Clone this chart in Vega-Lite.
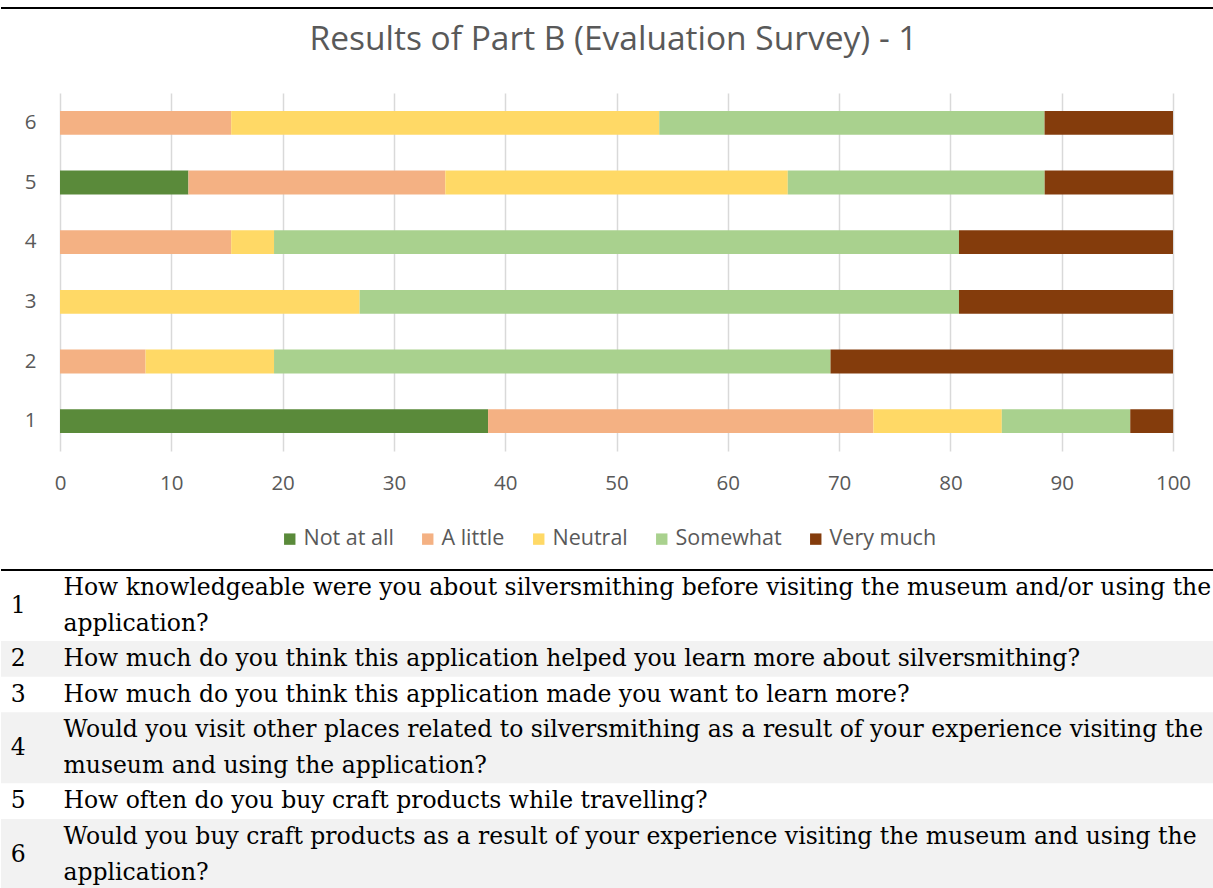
{
  "$schema": "https://vega.github.io/schema/vega-lite/v6.json",
  "padding": {"left": 0, "right": 0, "top": 7, "bottom": 0},
  "spacing": 13,
  "resolve": {"legend": {"color": "independent"}},
  "config": {"view": {"stroke": null}, "font": "Open Sans", "legend": {"layout": {"bottom": {"anchor": "middle"}}}},
  "datasets": {
    "survey": [
      {"question": 1, "response": "Not at all", "level": 1, "pct": 38.46},
      {"question": 1, "response": "A little", "level": 2, "pct": 34.62},
      {"question": 1, "response": "Neutral", "level": 3, "pct": 11.54},
      {"question": 1, "response": "Somewhat", "level": 4, "pct": 11.54},
      {"question": 1, "response": "Very much", "level": 5, "pct": 3.85},
      {"question": 2, "response": "A little", "level": 2, "pct": 7.69},
      {"question": 2, "response": "Neutral", "level": 3, "pct": 11.54},
      {"question": 2, "response": "Somewhat", "level": 4, "pct": 50.0},
      {"question": 2, "response": "Very much", "level": 5, "pct": 30.77},
      {"question": 3, "response": "Neutral", "level": 3, "pct": 26.92},
      {"question": 3, "response": "Somewhat", "level": 4, "pct": 53.85},
      {"question": 3, "response": "Very much", "level": 5, "pct": 19.23},
      {"question": 4, "response": "A little", "level": 2, "pct": 15.38},
      {"question": 4, "response": "Neutral", "level": 3, "pct": 3.85},
      {"question": 4, "response": "Somewhat", "level": 4, "pct": 61.54},
      {"question": 4, "response": "Very much", "level": 5, "pct": 19.23},
      {"question": 5, "response": "Not at all", "level": 1, "pct": 11.54},
      {"question": 5, "response": "A little", "level": 2, "pct": 23.08},
      {"question": 5, "response": "Neutral", "level": 3, "pct": 30.77},
      {"question": 5, "response": "Somewhat", "level": 4, "pct": 23.08},
      {"question": 5, "response": "Very much", "level": 5, "pct": 11.54},
      {"question": 6, "response": "A little", "level": 2, "pct": 15.38},
      {"question": 6, "response": "Neutral", "level": 3, "pct": 38.46},
      {"question": 6, "response": "Somewhat", "level": 4, "pct": 34.62},
      {"question": 6, "response": "Very much", "level": 5, "pct": 11.54}
    ],
    "questions": [
      {"no": 1, "start": 0, "end": 2, "lines": 2, "question": "How knowledgeable were you about silversmithing before visiting the museum and/or using the\napplication?"},
      {"no": 2, "start": 2, "end": 3, "lines": 1, "question": "How much do you think this application helped you learn more about silversmithing?"},
      {"no": 3, "start": 3, "end": 4, "lines": 1, "question": "How much do you think this application made you want to learn more?"},
      {"no": 4, "start": 4, "end": 6, "lines": 2, "question": "Would you visit other places related to silversmithing as a result of your experience visiting the\nmuseum and using the application?"},
      {"no": 5, "start": 6, "end": 7, "lines": 1, "question": "How often do you buy craft products while travelling?"},
      {"no": 6, "start": 7, "end": 9, "lines": 2, "question": "Would you buy craft products as a result of your experience visiting the museum and using the\napplication?"}
    ]
  },
  "vconcat": [
    {
      "width": 1213,
      "height": 1,
      "data": {"values": [{}]},
      "mark": {"type": "rule", "strokeWidth": 2, "color": "#000000"},
      "encoding": {"y": {"datum": 0, "type": "quantitative", "axis": null}}
    },
    {
      "width": 1213,
      "height": 358,
      "title": {"text": "Results of Part B (Evaluation Survey) - 1", "fontSize": 33.5, "font": "Open Sans", "fontWeight": "normal", "color": "#595959", "anchor": "middle", "offset": 36, "dx": 6},
      "data": {"name": "survey"},
      "mark": {"type": "bar"},
      "encoding": {
        "y": {"field": "question", "type": "ordinal", "sort": "descending",
          "scale": {"paddingInner": 0.6, "paddingOuter": 0.3},
          "axis": {"title": null, "domain": false, "ticks": false, "tickSize": 0, "labelPadding": 0, "offset": -35, "labelFontSize": 20.5, "labelColor": "#595959", "labelFont": "Open Sans"}},
        "x": {"field": "pct", "type": "quantitative", "stack": "zero",
          "scale": {"domain": [0, 100], "range": [59, 1172], "nice": false, "zero": true},
          "axis": {"title": null, "values": [0, 10, 20, 30, 40, 50, 60, 70, 80, 90, 100], "domain": false, "ticks": false, "tickSize": 0, "labelPadding": 22, "labelFlush": false, "grid": true, "gridColor": "#d9d9d9", "gridWidth": 1.5, "labelFontSize": 20.5, "labelColor": "#595959", "labelFont": "Open Sans"}},
        "color": {"field": "response", "type": "nominal",
          "scale": {"domain": ["Not at all", "A little", "Neutral", "Somewhat", "Very much"], "range": ["#5a8a3a", "#f4b183", "#ffd966", "#a9d18e", "#843c0c"]},
          "legend": {"title": null, "orient": "bottom", "direction": "horizontal", "symbolType": "square", "symbolSize": 130, "symbolStrokeWidth": 0, "labelFontSize": 21.5, "labelColor": "#595959", "labelFont": "Open Sans", "columnPadding": 23, "labelOffset": 3, "offset": 28, "padding": 6}},
        "order": {"field": "level", "type": "quantitative"}
      }
    },
    {
      "width": 1213,
      "height": 320,
      "layer": [
        {
          "data": {"name": "questions"},
          "transform": [{"filter": "datum.no % 2 == 0"}],
          "mark": {"type": "rect", "color": "#f2f2f2", "clip": true},
          "encoding": {
            "x": {"datum": 0, "type": "quantitative", "scale": {"domain": [0, 100]}, "axis": null},
            "x2": {"datum": 100},
            "y": {"field": "start", "type": "quantitative", "scale": {"domain": [0, 8.889], "reverse": true}, "axis": null},
            "y2": {"field": "end"}
          }
        },
        {
          "data": {"values": [{}]},
          "mark": {"type": "rule", "strokeWidth": 2, "color": "#000000"},
          "encoding": {"y": {"datum": 0, "type": "quantitative"}}
        },
        {
          "data": {"name": "questions"},
          "transform": [{"filter": "datum.lines == 1"}],
          "mark": {"type": "text", "align": "left", "baseline": "line-top", "lineHeight": 36, "font": "DejaVu Serif", "fontSize": 23.5, "color": "#000000"},
          "encoding": {
            "x": {"datum": 0.8, "type": "quantitative"},
            "y": {"field": "start", "type": "quantitative"},
            "text": {"field": "no", "type": "nominal"}
          }
        },
        {
          "data": {"name": "questions"},
          "transform": [{"filter": "datum.lines == 2"}],
          "mark": {"type": "text", "align": "left", "baseline": "line-top", "lineHeight": 36, "dy": 18, "font": "DejaVu Serif", "fontSize": 23.5, "color": "#000000"},
          "encoding": {
            "x": {"datum": 0.8, "type": "quantitative"},
            "y": {"field": "start", "type": "quantitative"},
            "text": {"field": "no", "type": "nominal"}
          }
        },
        {
          "data": {"name": "questions"},
          "mark": {"type": "text", "align": "left", "baseline": "line-top", "font": "DejaVu Serif", "fontSize": 23.5, "lineBreak": "\n", "lineHeight": 36, "color": "#000000"},
          "encoding": {
            "x": {"datum": 5.15, "type": "quantitative"},
            "y": {"field": "start", "type": "quantitative"},
            "text": {"field": "question", "type": "nominal"}
          }
        }
      ]
    }
  ]
}
